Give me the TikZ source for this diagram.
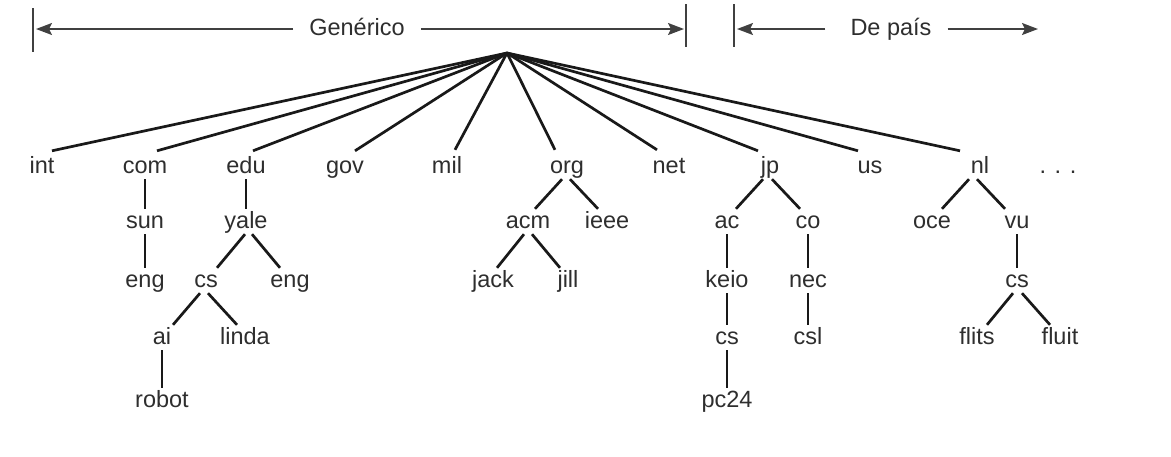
\documentclass[tikz,border=0pt]{standalone}
\usepackage{fontspec}
\setmainfont{Liberation Sans}
\usetikzlibrary{arrows.meta}
\definecolor{labelgray}{gray}{0.18}
\definecolor{linegray}{gray}{0.1}
\definecolor{hdrgray}{gray}{0.25}
\begin{document}
\begin{tikzpicture}[x=1pt,y=-1pt,
  lbl/.style={font=\fontsize{23.5}{28}\selectfont, text=labelgray, inner sep=1pt, text height=18pt, text depth=5pt, anchor=base},
  hdrlbl/.style={font=\fontsize{23.5}{28}\selectfont, text=labelgray, inner ysep=1pt, inner xsep=16pt, text height=17pt, text depth=5pt},
  tree/.style={line width=2.7pt, draw=linegray},
  hdr/.style={line width=1.8pt, draw=hdrgray, -{Stealth[length=16pt,width=12pt,inset=3pt]}},
  tickline/.style={line width=2pt, draw=hdrgray}]
\useasboundingbox (0,0) rectangle (1171,456);

% header
\node[hdrlbl] (gen) at (357,29) {Genérico};
\node[hdrlbl] (pais) at (891,29) {De país};
\coordinate (t1a) at (33,8);   \coordinate (t1b) at (33,52);
\coordinate (t2a) at (686,4);  \coordinate (t2b) at (686,47);
\coordinate (t3a) at (734,4);  \coordinate (t3b) at (734,47);
\coordinate (gL) at (36,29);   \coordinate (gR) at (684,29);
\coordinate (pL) at (737,29);  \coordinate (pR) at (1038,29);
\draw[tickline] (t1a) -- (t1b);
\draw[tickline] (t2a) -- (t2b);
\draw[tickline] (t3a) -- (t3b);
\draw[hdr] (gen.west) -- (gL);
\draw[hdr] (gen.east) -- (gR);
\draw[hdr] ([xshift=-9pt]pais.west) -- (pL);
\draw[hdr] (pais.east) -- (pR);

% root
\coordinate (root) at (507,53);

% row 1 (baseline 173)
\node[lbl] (int) at (42,173) {int};
\node[lbl] (com) at (145,173) {com};
\node[lbl] (edu) at (246,173) {edu};
\node[lbl] (gov) at (345,173) {gov};
\node[lbl] (mil) at (447,173) {mil};
\node[lbl] (org) at (567,173) {org};
\node[lbl] (net) at (669,173) {net};
\node[lbl] (jp) at (770,173) {jp};
\node[lbl] (us) at (870,173) {us};
\node[lbl] (nl) at (980,173) {nl};
\node[lbl] (dots) at (1058,173) {. . .};

% row 2 (baseline 228)
\node[lbl] (sun) at (145,228) {sun};
\node[lbl] (yale) at (246,228) {yale};
\node[lbl] (acm) at (528,228) {acm};
\node[lbl] (ieee) at (607,228) {ieee};
\node[lbl] (ac) at (727,228) {ac};
\node[lbl] (co) at (808,228) {co};
\node[lbl] (oce) at (932,228) {oce};
\node[lbl] (vu) at (1017,228) {vu};

% row 3 (baseline 287)
\node[lbl] (eng1) at (145,287) {eng};
\node[lbl] (cs1) at (206,287) {cs};
\node[lbl] (eng2) at (290,287) {eng};
\node[lbl] (jack) at (493,287) {jack};
\node[lbl] (jill) at (568,287) {jill};
\node[lbl] (keio) at (727,287) {keio};
\node[lbl] (nec) at (808,287) {nec};
\node[lbl] (cs3) at (1017,287) {cs};

% row 4 (baseline 344)
\node[lbl] (ai) at (162,344) {ai};
\node[lbl] (linda) at (245,344) {linda};
\node[lbl] (cs2) at (727,344) {cs};
\node[lbl] (csl) at (808,344) {csl};
\node[lbl] (flits) at (977,344) {flits};
\node[lbl] (fluit) at (1060,344) {fluit};

% row 5 (baseline 407)
\node[lbl] (robot) at (162,407) {robot};
\node[lbl] (pc24) at (727,407) {pc24};

% top-level edges
\draw[tree] (root) -- ([xshift=10pt,yshift=3pt]int.north);
\draw[tree] (root) -- ([xshift=12pt,yshift=3pt]com.north);
\draw[tree] (root) -- ([xshift=7pt,yshift=3pt]edu.north);
\draw[tree] (root) -- ([xshift=10pt,yshift=3pt]gov.north);
\draw[tree] (root) -- ([xshift=8pt,yshift=4pt]mil.north);
\draw[tree] (root) -- ([xshift=-12pt,yshift=4pt]org.north);
\draw[tree] (root) -- ([xshift=-12pt,yshift=4pt]net.north);
\draw[tree] (root) -- ([xshift=-12pt,yshift=3pt]jp.north);
\draw[tree] (root) -- ([xshift=-12pt,yshift=3pt]us.north);
\draw[tree] (root) -- ([xshift=-20pt,yshift=3pt]nl.north);

% vertical edges
\draw[tree] (com.south) -- (sun.north);
\draw[tree] (sun.south) -- (eng1.north);
\draw[tree] (edu.south) -- (yale.north);
\draw[tree] (ai.south) -- (robot.north);
\draw[tree] (ac.south) -- (keio.north);
\draw[tree] (keio.south) -- (cs2.north);
\draw[tree] (cs2.south) -- (pc24.north);
\draw[tree] (co.south) -- (nec.north);
\draw[tree] (nec.south) -- (csl.north);
\draw[tree] (vu.south) -- (cs3.north);

% diagonal edges
\draw[tree] ([xshift=-1pt]yale.south) -- ([xshift=11pt]cs1.north);
\draw[tree] ([xshift=6pt]yale.south) -- ([xshift=-10pt]eng2.north);
\draw[tree] ([xshift=-6pt]cs1.south) -- ([xshift=11pt]ai.north);
\draw[tree] ([xshift=2pt]cs1.south) -- ([xshift=-8pt]linda.north);
\draw[tree] ([xshift=-5pt]org.south) -- ([xshift=7pt]acm.north);
\draw[tree] ([xshift=3pt]org.south) -- ([xshift=-9pt]ieee.north);
\draw[tree] ([xshift=-4pt]acm.south) -- ([xshift=4pt]jack.north);
\draw[tree] ([xshift=4pt]acm.south) -- ([xshift=-8pt]jill.north);
\draw[tree] ([xshift=-7pt]jp.south) -- ([xshift=9pt]ac.north);
\draw[tree] ([xshift=2pt]jp.south) -- ([xshift=-8pt]co.north);
\draw[tree] ([xshift=-11pt]nl.south) -- ([xshift=10pt]oce.north);
\draw[tree] ([xshift=-3pt]nl.south) -- ([xshift=-12pt]vu.north);
\draw[tree] ([xshift=-4pt]cs3.south) -- ([xshift=10pt]flits.north);
\draw[tree] ([xshift=5pt]cs3.south) -- ([xshift=-10pt]fluit.north);
\end{tikzpicture}
\end{document}
